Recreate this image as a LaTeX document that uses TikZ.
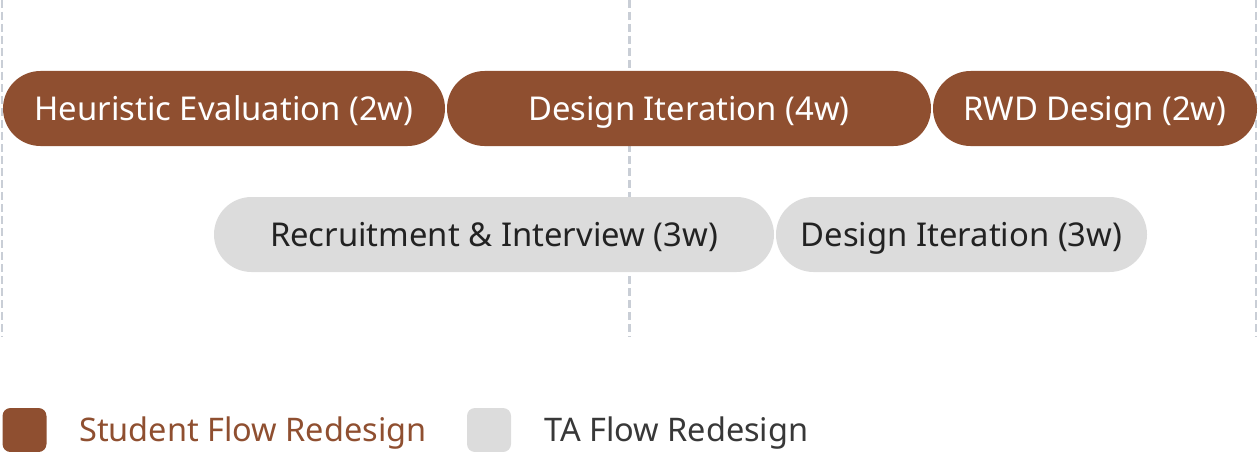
\documentclass[tikz,border=0pt]{standalone}
\usepackage{fontspec}
\setmainfont{Noto Sans}
\usepackage{tikz}
\usepackage{xcolor}
\definecolor{rust}{HTML}{8F4F30}
\definecolor{pale}{HTML}{DCDCDC}
\definecolor{grid}{HTML}{C9CED6}
\definecolor{ink}{HTML}{222222}

\begin{document}
\begin{tikzpicture}[x=1pt,y=-1pt]
	\tikzstyle{phase} = [minimum height=75pt, inner sep=0pt, rounded corners=37.5pt,
		text height=23.4pt, text depth=0pt, font=\fontsize{32.8}{38}\selectfont]
	\tikzstyle{student} = [phase, fill=rust, text=white]
	\tikzstyle{ta} = [phase, fill=pale, text=ink]
	\tikzstyle{swatch} = [minimum width=44pt, minimum height=44pt, inner sep=0pt, rounded corners=8pt]
	\tikzstyle{legend} = [anchor=west, inner sep=0pt, text height=23.2pt, text depth=0pt,
		font=\fontsize{32.5}{38}\selectfont]
	\useasboundingbox (0,0) rectangle (1258,452);
	% week lines
	\foreach \x in {2,629.5,1256}
		\draw [grid, line width=2.5pt, dash pattern=on 8pt off 4pt] (\x,0) -- (\x,337);
	% student flow
		\node[student, minimum width=442pt] (heur) at (224,108.5) {Heuristic Evaluation (2w)};
		\node[student, minimum width=484pt] (iter) at (689,108.5) {Design Iteration (4w)};
		\node[student, minimum width=324pt] (rwd) at (1095,108.5) {RWD Design (2w)};
	% TA flow
		\node[ta, minimum width=560pt] (recr) at (494,234.5) {Recruitment \& Interview (3w)};
		\node[ta, minimum width=371pt] (taiter) at (961.5,234.5) {Design Iteration (3w)};
	% legend
		\node[swatch, fill=rust] (keys) at (24.5,430) {};
		\node[legend, text=rust] (keystext) at (79,429.5) {Student Flow Redesign};
		\node[swatch, fill=pale] (keyt) at (489,430) {};
		\node[legend, text=ink!90] (keyttext) at (544,429.5) {TA Flow Redesign};
\end{tikzpicture}
\end{document}
